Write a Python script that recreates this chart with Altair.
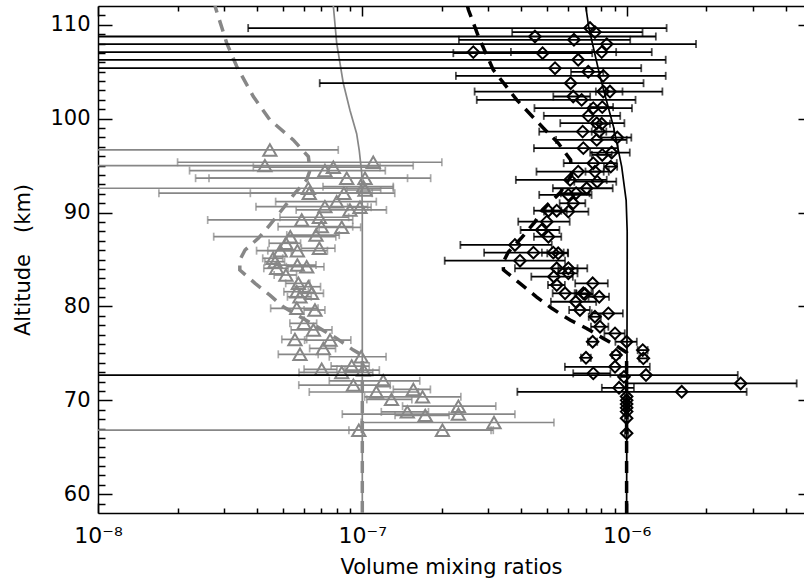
import altair as alt
import pandas as pd

# ---------------------------------------------------------------------------
# Observed profiles: altitude (km), volume mixing ratio and 1-sigma (units 1e-7)
# ---------------------------------------------------------------------------
TRI_ALT = [96.67, 95.36, 95.00, 94.83, 94.47, 93.66, 93.66, 92.59, 92.76, 92.40,
           92.06, 92.06, 91.16, 90.56, 90.63, 90.28, 89.50, 89.21, 88.43, 88.50,
           87.60, 87.43, 86.73, 85.94, 85.94, 86.20, 85.13, 84.77, 84.41, 84.23,
           84.06, 83.35, 82.46, 82.10, 81.57, 81.40, 81.03, 79.80, 79.62, 78.20,
           77.50, 76.49, 76.42, 75.53, 74.90, 74.64, 73.65, 73.30, 73.22, 72.97,
           72.08, 71.62, 71.16, 70.89, 70.37, 70.10, 69.38, 68.77, 68.53, 68.40,
           67.64, 66.82, 66.82]
TRI_VMR = [0.447, 1.100, 0.428, 0.777, 0.722, 0.873, 1.024, 0.625, 1.010, 1.024,
           0.852, 0.630, 0.800, 0.980, 0.722, 0.898, 0.688, 0.590, 0.836, 0.700,
           0.668, 0.534, 0.514, 0.489, 0.568, 0.688, 0.460, 0.468, 0.568, 0.616,
           0.474, 0.514, 0.573, 0.625, 0.565, 0.643, 0.581, 0.565, 0.662, 0.602,
           0.653, 0.556, 0.755, 0.712, 0.581, 0.990, 0.912, 0.702, 1.010, 0.836,
           1.200, 0.925, 1.560, 1.130, 1.690, 1.290, 2.310, 1.480, 2.310, 1.730,
           3.150, 2.010, 0.970]
TRI_ERR = [0.364, 0.900, 1.130, 0.390, 0.500, 0.610, 0.790, 0.685, 0.300, 0.150,
           0.475, 0.460, 0.330, 0.100, 0.326, 0.336, 0.200, 0.330, 0.150, 0.220,
           0.150, 0.260, 0.070, 0.050, 0.170, 0.100, 0.040, 0.040, 0.100, 0.100,
           0.050, 0.050, 0.060, 0.070, 0.060, 0.070, 0.060, 0.115, 0.060, 0.070,
           0.115, 0.060, 0.150, 0.080, 0.100, 0.240, 0.150, 0.100, 0.150, 0.260,
           0.450, 0.350, 0.250, 0.500, 0.670, 0.250, 0.890, 0.300, 1.470, 0.400,
           2.160, 1.120, 2.100]

DIA_ALT = [109.65, 109.22, 108.75, 108.40, 107.94, 107.09, 106.98, 107.09, 106.27, 105.38,
           104.99, 104.56, 103.78, 102.89, 102.89, 102.36, 102.00, 101.12, 101.23, 100.30,
           99.52, 99.45, 98.62, 98.62, 97.99, 97.74, 96.86, 96.39, 96.14, 95.26,
           94.89, 94.36, 94.36, 93.48, 93.29, 92.59, 92.06, 91.88, 90.99, 90.20,
           90.20, 90.10, 89.03, 88.14, 87.43, 86.55, 85.73, 85.73, 85.66, 84.87,
           84.06, 84.06, 83.53, 83.17, 82.46, 82.28, 81.40, 81.40, 81.32, 81.03,
           80.50, 79.62, 79.26, 78.90, 77.84, 77.13, 76.24, 76.24, 75.35, 74.82,
           74.47, 74.53, 73.57, 72.87, 72.50, 72.69, 71.80, 71.33, 70.91, 70.40,
           70.00, 69.60, 69.20, 68.80, 68.10, 66.50]
DIA_VMR = [7.27, 7.59, 4.50, 6.32, 8.41, 2.63, 4.81, 8.05, 6.56, 5.36,
           7.16, 8.16, 6.14, 8.16, 8.65, 6.28, 6.76, 7.48, 8.09, 7.16,
           7.71, 8.05, 6.82, 7.88, 9.22, 7.71, 6.86, 8.78, 8.09, 7.48,
           8.71, 6.56, 7.59, 6.11, 7.74, 7.06, 6.44, 6.02, 6.28, 5.06,
           5.44, 6.02, 4.99, 4.77, 5.06, 3.78, 4.44, 5.28, 5.51, 3.95,
           5.44, 6.02, 6.02, 5.31, 7.44, 5.44, 5.85, 6.86, 6.96, 7.88,
           6.42, 6.66, 8.53, 7.59, 7.93, 9.04, 10.00, 7.44, 11.51, 9.12,
           11.57, 7.02, 9.04, 7.48, 9.77, 11.84, 27.00, 9.36, 16.16, 10.00,
           10.00, 10.00, 10.00, 10.00, 10.00, 10.00]
DIA_ERR = [6.90, 3.90, 8.40, 4.00, 9.90, 6.50, 2.60, 4.40, 7.50, 6.00,
           1.00, 5.90, 5.45, 5.50, 1.00, 1.00, 4.05, 3.00, 0.80, 2.30,
           2.10, 0.60, 2.15, 0.50, 1.20, 2.30, 2.40, 1.50, 0.70, 1.70,
           0.50, 2.00, 0.60, 2.30, 1.40, 1.80, 0.80, 1.35, 0.70, 0.60,
           0.50, 1.15, 1.10, 0.80, 0.60, 1.43, 1.55, 0.50, 0.50, 1.90,
           1.66, 0.50, 0.50, 0.95, 1.05, 0.40, 0.60, 0.50, 0.50, 0.70,
           1.25, 0.60, 1.15, 0.40, 0.60, 0.80, 0.93, 0.30, 0.50, 0.30,
           0.40, 0.30, 3.20, 1.20, 0.30, 14.50, 17.00, 1.30, 12.30, 0.15,
           0.15, 0.15, 0.15, 0.15, 0.15, 0.15]

# ---------------------------------------------------------------------------
# Model profiles (units 1e-7)
# ---------------------------------------------------------------------------
GRAY_SOLID_ALT = [58.0, 90.0, 94.2, 96.6, 98.4, 100.9, 103.8, 108.05, 112.0]
GRAY_SOLID_VMR = [1.000, 1.000, 0.995, 0.974, 0.952, 0.898, 0.847, 0.800, 0.777]

GRAY_DASH_ALT = [58.0, 74.8, 75.35, 76.6, 79.97, 81.2, 82.46, 83.88, 84.95, 86.01,
                 87.26, 88.68, 90.46, 92.06, 93.48, 94.5, 95.96, 97.74, 99.87, 102.36,
                 105.55, 108.05, 112.0]
GRAY_DASH_VMR = [1.000, 1.000, 0.925, 0.800, 0.502, 0.447, 0.393, 0.344, 0.344, 0.360,
                 0.404, 0.447, 0.502, 0.556, 0.616, 0.634, 0.625, 0.548, 0.447, 0.387,
                 0.335, 0.307, 0.277]

BLACK_SOLID_ALT = [58.0, 85.0, 88.0, 91.3, 94.9, 99.2, 104.5, 109.65, 112.0]
BLACK_SOLID_VMR = [10.00, 10.05, 10.05, 9.96, 9.58, 8.91, 7.93, 7.20, 7.00]

BLACK_DASH_ALT = [58.0, 75.1, 75.9, 76.6, 77.66, 78.55, 79.8, 81.0, 82.46, 83.9,
                  84.7, 85.8, 87.3, 89.0, 90.3, 92.1, 94.0, 95.6, 97.4, 99.0,
                  102.0, 105.2, 108.75, 111.6, 112.0]
BLACK_DASH_VMR = [10.00, 10.00, 9.04, 8.16, 7.06, 6.11, 5.21, 4.57, 3.95, 3.42,
                  3.41, 3.57, 4.00, 4.50, 4.80, 5.60, 6.20, 6.14, 5.51, 4.84,
                  3.84, 3.13, 2.75, 2.52, 2.50]

# ---------------------------------------------------------------------------
# Axis ranges and tick positions
# ---------------------------------------------------------------------------
UNIT = 1e-7
X_MIN, X_MAX = 1e-8, 4.69e-6
Y_MIN, Y_MAX = 58, 112
X_DECADES = [1e-8, 1e-7, 1e-6]
X_MINOR = [2e-8, 3e-8, 4e-8, 5e-8, 6e-8, 7e-8, 8e-8, 9e-8,
           2e-7, 3e-7, 4e-7, 5e-7, 6e-7, 7e-7, 8e-7, 9e-7,
           2e-6, 3e-6, 4e-6]
Y_MAJOR = [60, 70, 80, 90, 100, 110]
Y_MINOR = [a for a in range(59, 112) if a % 10]

W, H = 706, 507
GRAY = "#878787"
BLACK = "#000000"
FONT = "DejaVu Sans"

XS = alt.Scale(type="log", domain=[X_MIN, X_MAX], nice=False)
YS = alt.Scale(domain=[Y_MIN, Y_MAX], nice=False, zero=False)


def obs_frame(alts, vmrs, errs):
    df = pd.DataFrame({"alt": alts,
                       "vmr": [v * UNIT for v in vmrs],
                       "err": [e * UNIT for e in errs]})
    df["lo"] = (df["vmr"] - df["err"]).clip(lower=1e-9)
    df["hi"] = df["vmr"] + df["err"]
    return df


def profile_frame(alts, vmrs):
    return pd.DataFrame({"alt": alts, "vmr": [v * UNIT for v in vmrs]})


def xq(field):
    return alt.X(field, type="quantitative", scale=XS, axis=None)


def yq():
    return alt.Y("alt", type="quantitative", scale=YS, axis=None)


def obs_layers(df, color, shape, size, width):
    bars = alt.Chart(df).mark_rule(color=color, strokeWidth=width, clip=True).encode(
        x=xq("lo"), x2="hi:Q", y=yq())
    cap_hi = alt.Chart(df).mark_tick(orient="vertical", color=color, size=8,
                                     thickness=width, clip=True).encode(x=xq("hi"), y=yq())
    cap_lo = alt.Chart(df[df["lo"] > X_MIN]).mark_tick(
        orient="vertical", color=color, size=8, thickness=width, clip=True
    ).encode(x=xq("lo"), y=yq())
    pts = alt.Chart(df).mark_point(shape=shape, filled=False, size=size, strokeWidth=2,
                                   color=color, opacity=1, clip=True).encode(
        x=xq("vmr"), y=yq())
    return [bars, cap_hi, cap_lo, pts]


def profile_line(df, color, width, dash=None):
    kw = dict(color=color, strokeWidth=width, clip=True)
    if dash:
        kw["strokeDash"] = dash
    return alt.Chart(df).mark_line(**kw).encode(
        x=xq("vmr"), y=yq(), order=alt.Order("alt:Q"))


tri = obs_frame(TRI_ALT, TRI_VMR, TRI_ERR)
dia = obs_frame(DIA_ALT, DIA_VMR, DIA_ERR)

layers = [
    profile_line(profile_frame(GRAY_SOLID_ALT, GRAY_SOLID_VMR), GRAY, 1.7),
    profile_line(profile_frame(GRAY_DASH_ALT, GRAY_DASH_VMR), GRAY, 3.5, [12, 8]),
]
layers += obs_layers(tri, GRAY, "triangle-up", 175, 1.7)
layers += [
    profile_line(profile_frame(BLACK_SOLID_ALT, BLACK_SOLID_VMR), BLACK, 1.7),
    profile_line(profile_frame(BLACK_DASH_ALT, BLACK_DASH_VMR), BLACK, 3.5, [12, 8]),
]
layers += obs_layers(dia, BLACK, "diamond", 135, 1.8)

# ---------------------------------------------------------------------------
# Frame with inward-pointing ticks (IDL style)
# ---------------------------------------------------------------------------
anchor = pd.DataFrame({"vmr": [1e-7], "alt": [80.0]})


def axis_layer(xaxis, yaxis):
    return alt.Chart(anchor).mark_point(opacity=0).encode(
        x=alt.X("vmr", type="quantitative", scale=XS, axis=xaxis),
        y=alt.Y("alt", type="quantitative", scale=YS, axis=yaxis),
    )


def tick_axis(orient, offset, values, size, domain=False):
    return alt.Axis(orient=orient, offset=offset, values=values, tickSize=size,
                    tickWidth=1.5, tickColor=BLACK, labels=False, domain=domain,
                    domainWidth=1.5, domainColor=BLACK, grid=False, title=None)


label_x = alt.Axis(orient="bottom", values=X_DECADES, ticks=False, grid=False,
                   domain=True, domainWidth=1.5, domainColor=BLACK,
                   labelExpr="datum.value < 5e-8 ? '10⁻⁸' : (datum.value < 5e-7 ? '10⁻⁷' : '10⁻⁶')",
                   labelFlush=False, labelOverlap=False, labelPadding=12,
                   labelFont=FONT, labelFontSize=22, labelColor=BLACK,
                   title="Volume mixing ratios", titleFont=FONT, titleFontSize=21,
                   titleFontWeight="normal", titleColor=BLACK, titlePadding=10)
label_y = alt.Axis(orient="left", values=Y_MAJOR, ticks=False, grid=False,
                   domain=True, domainWidth=1.5, domainColor=BLACK, format="d",
                   labelFlush=False, labelOverlap=False, labelPadding=8,
                   labelFont=FONT, labelFontSize=21, labelColor=BLACK,
                   title="Altitude\u2003(km)", titleFont=FONT, titleFontSize=21,
                   titleFontWeight="normal", titleColor=BLACK, titlePadding=16)

layers += [
    axis_layer(label_x, label_y),
    axis_layer(tick_axis("bottom", -H, X_DECADES, 10, domain=True),
               tick_axis("right", -W, Y_MAJOR, 14)),
    axis_layer(tick_axis("bottom", -H, X_MINOR, 5),
               tick_axis("right", -W, Y_MINOR, 7)),
    axis_layer(tick_axis("top", -H, X_DECADES, 10),
               tick_axis("left", -W, Y_MAJOR, 6)),
    axis_layer(tick_axis("top", -H, X_MINOR, 5), None),
]

chart = (
    alt.layer(*layers)
    .resolve_axis(x="independent", y="independent")
    .properties(width=W, height=H,
                padding={"left": 98, "top": 6, "right": 0, "bottom": 69},
                autosize=alt.AutoSizeParams(type="none"))
    .configure_view(stroke=None)
)

chart.save("out.html", embed_options={"renderer": "svg", "actions": False})
